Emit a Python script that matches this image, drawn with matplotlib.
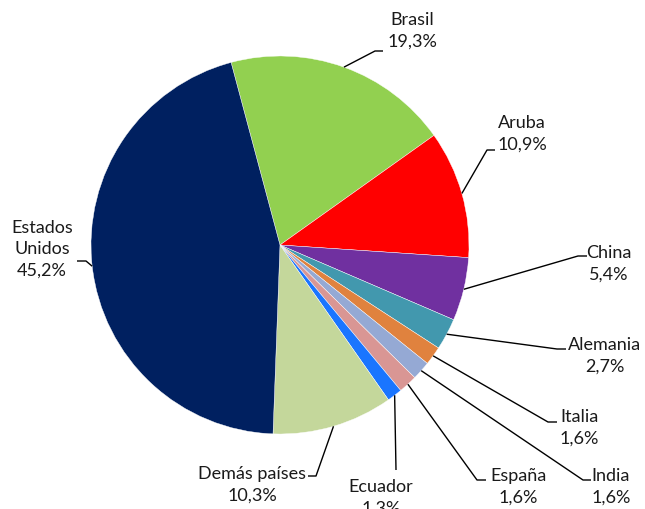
import numpy as np
import matplotlib
matplotlib.use("Agg")
import matplotlib.pyplot as plt

# --- data ---
countries = ["Brasil", "Aruba", "China", "Alemania", "Italia", "India",
             "España", "Ecuador", "Demás países", "Estados\nUnidos"]
shares = [19.3, 10.9, 5.4, 2.7, 1.6, 1.6, 1.6, 1.3, 10.3, 45.2]
colors = ["#92D050", "#FF0000", "#7030A0", "#4298AE", "#E0823E", "#95A9D4",
          "#D99694", "#1A75FF", "#C4D79B", "#002060"]

W, H = 645, 509
CX, CY, R = 280, 245, 189

# label layout in pixel coords (y down): text centre, elbow, line end
label_pos = [(412, 31), (522, 134), (609, 264), (605, 356), (579, 428),
             (611, 487), (518, 487), (381, 498), (252, 485), (42, 249)]
elbows = [(375, 51), (487, 150), (578, 256), (557, 349), (548, 422),
          (583, 480), (477, 480), (396, 470), (316, 476), (86, 261)]
ends = [383, 495, 587, 566, 557, 591, 486, 396, 308, 77]

fig = plt.figure(figsize=(W / 100, H / 100), dpi=100)
ax = fig.add_axes([0, 0, 1, 1])

wedges, _ = ax.pie(shares, colors=colors, startangle=105, counterclock=False,
                   center=(CX, H - CY), radius=R, frame=True,
                   wedgeprops=dict(linewidth=0.3, edgecolor="white"))
ax.set_xlim(0, W)
ax.set_ylim(0, H)
ax.axis("off")

for w, name, val, (tx, ty), (ex, ey), endx in zip(
        wedges, countries, shares, label_pos, elbows, ends):
    mid = np.deg2rad((w.theta1 + w.theta2) / 2)
    sx = CX + R * np.cos(mid)
    sy = (H - CY) + R * np.sin(mid)
    ax.plot([sx, ex, endx], [sy, H - ey, H - ey], color="black", lw=1.0,
            solid_capstyle="butt")
    txt = f"{name}\n{val:.1f}%".replace(".", ",")
    ax.text(tx, H - ty, txt, ha="center", va="center", fontsize=13,
            family="Lato", color="#1A1A1A", linespacing=1.4)

fig.savefig("out.png", dpi=100)
